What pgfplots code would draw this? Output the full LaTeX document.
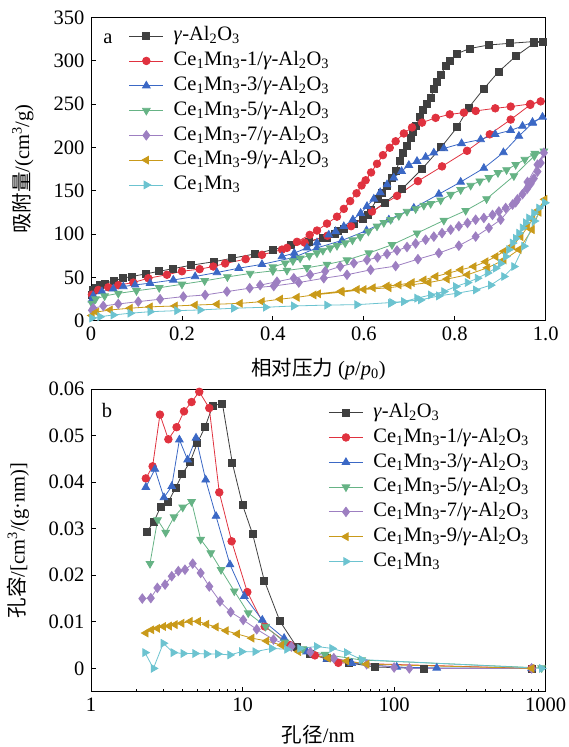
\documentclass[border=0pt]{standalone}
\usepackage{pgfplots}
\pgfplotsset{compat=1.18}
\usepackage{fontspec}
\setmainfont{Liberation Serif}
\newfontfamily\cjk{Noto Sans CJK SC}
\definecolor{cK}{HTML}{404040}
\definecolor{cR}{HTML}{E0323F}
\definecolor{cB}{HTML}{3B68C5}
\definecolor{cG}{HTML}{66B385}
\definecolor{cP}{HTML}{9D7FC1}
\definecolor{cY}{HTML}{C99A1A}
\definecolor{cC}{HTML}{6CC3D0}
\newcommand{\CeMn}{Ce\textsubscript{1}Mn\textsubscript{3}}
\newcommand{\Al}{\textit{γ}-Al\textsubscript{2}O\textsubscript{3}}
\pgfplotsset{
  base/.style={
    scale only axis, width=454.7pt,
    font=\fontsize{20.5}{24}\selectfont,
    tick align=inside, xtick pos=bottom, ytick pos=left,
    major tick length=5pt, minor tick length=3pt,
    axis line style={line width=0.9pt}, tick style={line width=0.8pt, black},
    /pgf/number format/assume math mode=true,
    scaled y ticks=false, scaled x ticks=false,
    yticklabel style={xshift=-3pt},
    xticklabel style={yshift=-3pt},
    clip=false,
    every axis plot/.append style={line width=0.8pt},
    legend cell align=left,
    legend style={draw=none, fill=none, inner sep=0pt, row sep=3.3pt,
      font=\fontsize{20.5}{24}\selectfont,
      nodes={inner sep=1pt, text height=14.5pt, text depth=5pt},
      /tikz/every odd column/.append style={column sep=9pt}},
    legend image code/.code={\draw[mark repeat=2,mark phase=2,#1] plot coordinates {(0pt,0pt) (17pt,0pt) (34pt,0pt)};},
  },
  sK/.style={color=cK, mark=square*, mark size=3.5pt, mark options={fill=cK}},
  sR/.style={color=cR, mark=*, mark size=3.8pt, mark options={fill=cR}},
  sB/.style={color=cB, mark=triangle*, mark size=4.4pt, mark options={fill=cB}},
  sG/.style={color=cG, mark=triangle*, mark size=4.4pt, mark options={fill=cG, rotate=180}},
  sP/.style={color=cP, mark=diamond*, mark size=4.7pt, mark options={fill=cP}},
  sY/.style={color=cY, mark=triangle*, mark size=4.4pt, mark options={fill=cY, rotate=90}},
  sC/.style={color=cC, mark=triangle*, mark size=4.4pt, mark options={fill=cC, rotate=-90}},
}
\begin{document}
\begin{tikzpicture}
\useasboundingbox (0pt,0pt) rectangle (569pt,747pt);
% ---------------- (a) ----------------
\begin{axis}[base, at={(91pt,426.3pt)}, anchor=south west, height=303.4pt,
  xmin=0, xmax=1, ymin=0, ymax=350,
  xtick={0,0.2,0.4,0.6,0.8,1}, xticklabels={0,0.2,0.4,0.6,0.8,1.0},
  ytick={0,50,...,350},
  xlabel={{\cjk 相对压力} (\textit{p}/\textit{p}\textsubscript{0})},
  ylabel={{\cjk 吸附量}/(cm\textsuperscript{3}/g)},
  every axis x label/.style={at={(axis description cs:0.5,-0.158)}, anchor=center},
  every axis y label/.style={at={(axis description cs:-0.150,0.5)}, anchor=center, rotate=90},
  legend style={at={(axis description cs:0.083,0.974)}, anchor=north west},
]
\node[anchor=center] at (axis description cs:0.037,0.93) {a};
\addplot[sK] coordinates {(0.002,30) (0.005,35) (0.01,38) (0.02,41) (0.03,43) (0.05,46) (0.07,49) (0.09,51) (0.12,54) (0.15,57) (0.18,60) (0.22,64) (0.27,68) (0.31,72) (0.36,77) (0.40,82) (0.44,87) (0.48,91) (0.51,96) (0.543,104) (0.578,112) (0.609,122) (0.646,136) (0.684,152) (0.728,175) (0.770,200) (0.805,223) (0.831,246) (0.863,267) (0.896,287) (0.934,305) (0.974,320) (0.993,322)
 (0.974,322) (0.921,320) (0.874,318) (0.833,314) (0.805,308) (0.789,300) (0.780,294) (0.770,284) (0.761,276) (0.754,267) (0.747,257) (0.739,250) (0.731,243) (0.723,235) (0.715,225) (0.708,218) (0.703,211) (0.695,202) (0.687,193) (0.679,184) (0.670,173) (0.662,165) (0.651,156) (0.640,148) (0.630,141) (0.615,128) (0.598,118) (0.578,112) (0.556,106) (0.537,100) (0.519,96)};
\addlegendentry{\Al}
\addplot[sR] coordinates {(0.002,30) (0.016,35.5) (0.038,38.6) (0.06,41) (0.093,44) (0.126,49) (0.167,53) (0.2,57) (0.239,59.5) (0.269,62.5) (0.295,66) (0.34,71) (0.376,76) (0.42,82) (0.47,90) (0.52,98) (0.572,109) (0.618,126) (0.673,144) (0.719,161) (0.772,178) (0.827,196) (0.877,215) (0.923,232) (0.966,249) (0.989,253)
 (0.966,250) (0.923,247) (0.889,245) (0.846,242) (0.820,240) (0.789,238) (0.758,234) (0.728,228.5) (0.706,223) (0.688,216) (0.670,207) (0.657,199.5) (0.642,191) (0.629,181) (0.616,171) (0.604,162) (0.595,156) (0.584,147) (0.570,138) (0.556,129) (0.541,120) (0.519,112) (0.497,104) (0.481,99) (0.453,91) (0.431,84)};
\addlegendentry{\CeMn-1/\Al}
\addplot[sB] coordinates {(0.002,24) (0.005,29) (0.024,33.6) (0.049,36.7) (0.071,39.4) (0.097,41.3) (0.13,43.3) (0.181,47) (0.229,51) (0.277,55.6) (0.325,60.6) (0.376,65) (0.446,73) (0.497,84) (0.552,92.6) (0.606,104) (0.655,116.5) (0.71,130) (0.765,146) (0.813,160) (0.864,176) (0.907,194) (0.941,213) (0.971,228) (0.993,235)
 (0.971,229) (0.949,224.5) (0.923,219.6) (0.889,215) (0.857,209) (0.815,204.5) (0.776,198.7) (0.754,193.7) (0.736,188.7) (0.717,184) (0.699,179.4) (0.683,172.5) (0.666,164.8) (0.651,157) (0.636,148) (0.622,140.5) (0.607,132) (0.593,124) (0.576,116.5) (0.556,108.8) (0.538,103) (0.523,99) (0.497,90) (0.475,84) (0.447,78) (0.42,74)};
\addlegendentry{\CeMn-3/\Al}
\addplot[sG] coordinates {(0.002,20) (0.01,25) (0.03,28.5) (0.06,31.5) (0.1,34.5) (0.15,38) (0.2,42) (0.25,46) (0.3,50.5) (0.35,54.5) (0.40,57.5) (0.431,58) (0.475,61) (0.519,65) (0.563,70) (0.611,78) (0.662,87.6) (0.717,101) (0.776,115.7) (0.824,127) (0.87,140.5) (0.93,167) (0.975,190) (0.996,195.6)
 (0.976,193) (0.954,186) (0.934,180) (0.914,174) (0.895,170.6) (0.875,164.8) (0.855,161) (0.835,156) (0.813,151) (0.791,145.5) (0.769,139) (0.747,135) (0.732,133) (0.714,129) (0.695,126) (0.677,121) (0.659,116.5) (0.644,113) (0.629,109) (0.61,103) (0.592,97) (0.575,93) (0.559,89.6) (0.541,86.5) (0.526,83.8) (0.51,81) (0.497,78) (0.48,75) (0.460,72) (0.444,69) (0.427,66.4) (0.40,62)};
\addlegendentry{\CeMn-5/\Al}
\addplot[sP] coordinates {(0.002,12) (0.005,14.4) (0.027,17) (0.06,19.3) (0.104,22) (0.152,24.8) (0.203,27.8) (0.251,29.7) (0.299,33.6) (0.349,37.5) (0.402,40) (0.457,44) (0.512,49) (0.563,53) (0.615,58.7) (0.670,63) (0.719,71) (0.765,78) (0.809,86.5) (0.846,97) (0.875,107) (0.901,116.5) (0.934,136.6) (0.96,160) (0.982,180) (0.996,193.7)
 (0.989,182) (0.982,172) (0.974,164) (0.967,158) (0.959,152) (0.949,146) (0.938,140) (0.927,134) (0.912,130) (0.897,126) (0.883,122) (0.864,118.5) (0.846,116.5) (0.828,112.7) (0.809,109) (0.791,105) (0.772,101) (0.754,97) (0.736,93.4) (0.714,89) (0.695,85) (0.673,81) (0.651,77) (0.63,73) (0.607,70) (0.578,66.4) (0.548,62.5) (0.515,57) (0.482,53) (0.446,49) (0.409,45) (0.372,41)};
\addlegendentry{\CeMn-7/\Al}
\addplot[sY] coordinates {(0.002,6) (0.012,10) (0.042,12.4) (0.086,14.4) (0.13,16) (0.185,17) (0.229,18) (0.277,19) (0.328,20) (0.376,22) (0.416,24.8) (0.453,27) (0.49,29.7) (0.552,33) (0.6,36) (0.655,38) (0.699,41) (0.743,44) (0.783,48) (0.828,53) (0.872,61) (0.908,70) (0.941,82) (0.97,105) (0.985,125) (0.998,140)
 (0.982,127) (0.971,117) (0.96,108) (0.945,97) (0.927,86.5) (0.908,80) (0.89,74) (0.868,68) (0.842,62.5) (0.813,58.7) (0.787,55) (0.758,51) (0.732,47) (0.706,44) (0.677,41.3) (0.651,40) (0.62,38) (0.585,36) (0.55,34) (0.5,31)};
\addlegendentry{\CeMn-9/\Al}
\addplot[sC] coordinates {(0.002,3) (0.02,4.6) (0.049,6.6) (0.086,8.6) (0.13,10.4) (0.189,11.6) (0.24,12.4) (0.314,14.4) (0.384,15.5) (0.446,17) (0.519,18) (0.585,18.5) (0.662,21) (0.725,24) (0.765,28.6) (0.805,31.7) (0.846,35.5) (0.879,41) (0.908,51) (0.93,62.5) (0.952,86) (0.975,115) (0.998,136)
 (0.985,130) (0.974,124) (0.963,118.5) (0.956,113) (0.949,107) (0.941,101) (0.934,95) (0.927,89.6) (0.919,82) (0.912,74) (0.901,66) (0.89,60.6) (0.872,55) (0.85,49) (0.828,44) (0.802,39.4) (0.776,33.6) (0.747,29.7) (0.717,26) (0.688,22) (0.659,20)};
\addlegendentry{\CeMn}
\end{axis}
% ---------------- (b) ----------------
\begin{axis}[base, at={(91pt,55.3pt)}, anchor=south west, height=302.7pt,
  xmode=log, xmin=1, xmax=1000, ymin=-0.005, ymax=0.06,
  xtick={1,10,100,1000}, xticklabels={1,10,100,1000},
  minor xtick={2,3,4,5,6,7,8,9,20,30,40,50,60,70,80,90,200,300,400,500,600,700,800,900},
  ytick={0,0.01,0.02,0.03,0.04,0.05,0.06},
  yticklabels={0,0.01,0.02,0.03,0.04,0.05,0.06},
  xlabel={{\cjk 孔径}/nm},
  ylabel={{\cjk 孔容}/[cm\textsuperscript{3}/(g·nm)]},
  every axis x label/.style={at={(axis description cs:0.5,-0.142)}, anchor=center},
  every axis y label/.style={at={(axis description cs:-0.160,0.5)}, anchor=center, rotate=90},
  legend style={at={(axis description cs:0.522,0.958)}, anchor=north west},
]
\node[anchor=center] at (axis description cs:0.035,0.93) {b};
\addplot[sK] coordinates {(2.33,0.0293) (2.60,0.0315) (2.88,0.0347) (3.24,0.0358) (3.62,0.0388) (4.0,0.0417) (4.5,0.0443) (5.03,0.0484) (5.65,0.0518) (6.35,0.0564) (7.36,0.0569) (8.56,0.0441) (10.0,0.0351) (11.66,0.0288) (13.9,0.0189) (17.66,0.0101) (22.7,0.0047) (27.9,0.0032) (36,0.0022) (50,0.0012) (74.8,0.0003) (158,0.0) (808,0.0)};
\addlegendentry{\Al}
\addplot[sR] coordinates {(2.30,0.0408) (2.55,0.0434) (2.85,0.0545) (3.24,0.0492) (3.67,0.0518) (4.11,0.0552) (4.61,0.0572) (5.18,0.0594) (6.03,0.0559) (7.02,0.0378) (8.47,0.0273) (10.75,0.0164) (14.0,0.009) (20.6,0.005) (30,0.0028) (42.8,0.0012) (808,0)};
\addlegendentry{\CeMn-1/\Al}
\addplot[sB] coordinates {(2.30,0.0389) (2.64,0.0428) (3.03,0.0367) (3.41,0.0391) (3.83,0.0491) (4.34,0.0448) (4.93,0.0495) (5.71,0.0405) (6.68,0.0327) (8.26,0.0223) (10.27,0.0155) (13.5,0.0104) (18.8,0.0065) (26.5,0.0036) (36,0.002) (52.5,0.0011) (104,0.0003) (191,0.0001) (808,0)};
\addlegendentry{\CeMn-3/\Al}
\addplot[sG] coordinates {(2.45,0.0225) (2.75,0.0319) (3.11,0.0292) (3.53,0.0325) (4.03,0.0346) (4.61,0.0358) (5.29,0.0277) (6.17,0.0248) (7.21,0.0212) (8.82,0.0166) (10.9,0.0119) (14.2,0.009) (19.0,0.0056) (25,0.0042) (35,0.003) (61,0.0018) (940,0.0001)};
\addlegendentry{\CeMn-5/\Al}
\addplot[sP] coordinates {(2.18,0.015) (2.48,0.0151) (2.74,0.0173) (3.08,0.018) (3.41,0.0198) (3.77,0.0209) (4.17,0.0212) (4.69,0.0225) (5.29,0.0205) (6.03,0.0176) (7.1,0.0144) (8.35,0.0121) (10.1,0.0104) (12.4,0.0084) (16,0.0062) (21,0.0047) (28,0.0035) (40,0.0022) (65.9,0.0009) (100,0.0002) (126,0) (808,0)};
\addlegendentry{\CeMn-7/\Al}
\addplot[sY] coordinates {(2.30,0.0076) (2.51,0.0083) (2.74,0.0086) (3.0,0.009) (3.28,0.0091) (3.58,0.0094) (3.97,0.0097) (4.5,0.0101) (5.1,0.0101) (5.79,0.0095) (6.68,0.0089) (7.78,0.0081) (9.23,0.0074) (11.5,0.0065) (14.4,0.0059) (18.1,0.005) (23.4,0.0036) (36.6,0.0022) (48.6,0.0016) (65.9,0.0009) (808,0)};
\addlegendentry{\CeMn-9/\Al}
\addplot[sC] coordinates {(2.27,0.0034) (2.58,0.0) (3.0,0.0054) (3.49,0.0034) (4.06,0.0032) (4.86,0.0032) (5.79,0.0031) (6.86,0.0031) (8.26,0.0029) (9.88,0.0036) (12.1,0.0036) (15.6,0.0043) (19.6,0.0041) (23.9,0.0043) (30.8,0.0047) (38.9,0.0043) (48.6,0.0034) (61,0.0019) (940,0)};
\addlegendentry{\CeMn}
\end{axis}
\end{tikzpicture}
\end{document}
